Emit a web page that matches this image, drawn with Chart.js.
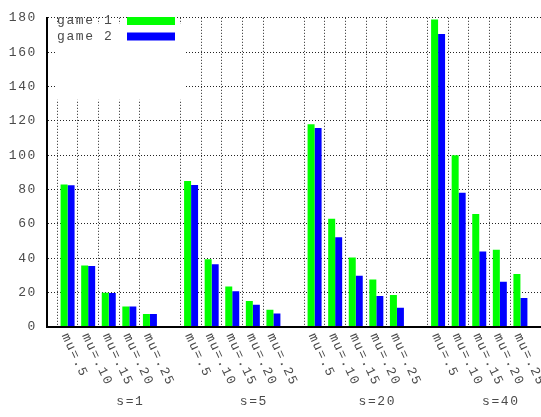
<!DOCTYPE html>
<html><head><meta charset="utf-8">
<script src="https://cdn.jsdelivr.net/npm/chart.js@4/dist/chart.umd.min.js"></script>
<style>html,body{margin:0;padding:0;background:#fff}canvas{display:block}</style>
</head><body>
<canvas id="c" width="541" height="417"></canvas>
<script>
const categories = ['mu=.5','mu=.10','mu=.15','mu=.20','mu=.25'];
const groups = ['s=1','s=5','s=20','s=40'];
const seriesNames = ['game 1','game 2'];
const game1 = [83,35.8,20,12,7.5,  85,39.4,23.6,15.2,10.1,  118,63,40.5,27.6,18.7,  179,100,65.8,45,30.9];
const game2 = [82.5,35.5,19.8,12,7.5,  82.7,36.6,20.8,12.9,7.9,  115.9,52.3,29.8,18,11.2,  170.5,78.2,43.9,26.4,16.9];
const yMin = 0, yMax = 180, yStep = 20;

const FONT_SIZE = 13;
const TEXT_FONT = FONT_SIZE + 'px "Liberation Mono"';
const TEXT_COLOR = '#4a4a4a';
const LETTER_SP = '1.6px';

// build category slots with an empty slot around each group
const labels = [''];
const v1 = [null], v2 = [null];
const groupLabelIndex = [];
groups.forEach((g, gi) => {
  categories.forEach((c, ci) => {
    labels.push(c);
    v1.push(game1[gi * categories.length + ci]);
    v2.push(game2[gi * categories.length + ci]);
  });
  groupLabelIndex.push(labels.length - 2);
  labels.push(''); v1.push(null); v2.push(null);
});

const decor = {
  id: 'decor',
  beforeDraw(chart) { chart.ctx.letterSpacing = LETTER_SP; },
  afterDatasetsDraw(chart) {
    const ctx = chart.ctx, a = chart.chartArea, xs = chart.scales.x;
    ctx.save();
    ctx.letterSpacing = LETTER_SP;
    // axis borders over bars
    ctx.strokeStyle = '#000'; ctx.lineWidth = 2; ctx.setLineDash([]);
    ctx.beginPath();
    ctx.moveTo(a.left, a.top); ctx.lineTo(a.left, a.bottom); ctx.lineTo(a.right, a.bottom);
    ctx.stroke();
    // legend box
    ctx.fillStyle = '#fff';
    ctx.fillRect(a.left + 8, a.top + 6, 131, 76);
    ctx.font = TEXT_FONT;
    ctx.textAlign = 'left'; ctx.textBaseline = 'middle';
    chart.data.datasets.forEach((ds, i) => {
      const y = 21 + i * 15.5;
      ctx.fillStyle = TEXT_COLOR;
      ctx.fillText(ds.label, 57, y);
      ctx.fillStyle = ds.backgroundColor;
      ctx.fillRect(127, y - 4, 48, 8);
    });
    // rotated category labels
    ctx.fillStyle = TEXT_COLOR;
    labels.forEach((l, i) => {
      if (!l) return;
      const x = xs.getPixelForValue(i);
      ctx.save();
      ctx.translate(x - 3, 334);
      ctx.rotate(65 * Math.PI / 180);
      ctx.textAlign = 'left'; ctx.textBaseline = 'middle';
      ctx.fillText(l, 0, 0);
      ctx.restore();
    });
    // group labels
    ctx.textAlign = 'center'; ctx.textBaseline = 'middle';
    groups.forEach((g, gi) => {
      const x = xs.getPixelForValue(groupLabelIndex[gi]);
      ctx.fillText(g, x + 1, 402);
    });
    ctx.restore();
  }
};

new Chart(document.getElementById('c'), {
  type: 'bar',
  plugins: [decor],
  data: {
    labels: labels,
    datasets: [
      { label: seriesNames[0], data: v1, backgroundColor: '#00ff00', borderWidth: 0 },
      { label: seriesNames[1], data: v2, backgroundColor: '#0000ff', borderWidth: 0 }
    ]
  },
  options: {
    responsive: false,
    animation: false,
    devicePixelRatio: 1,
    layout: { padding: { top: 7, right: 0, left: 0, bottom: 0 } },
    plugins: { legend: { display: false }, tooltip: { enabled: false } },
    datasets: { bar: { categoryPercentage: 0.68, barPercentage: 1.0 } },
    scales: {
      x: {
        type: 'category',
        offset: false,
        afterFit(s) { s.height = 90; },
        ticks: { display: false, autoSkip: false },
        grid: {
          drawTicks: false,
          color: (c) => (c.tick && labels[c.index] ? '#222' : 'rgba(0,0,0,0)'),
          lineWidth: 1
        },
        border: { display: true, color: '#000', width: 2, dash: [1, 2] }
      },
      y: {
        min: yMin, max: yMax,
        afterFit(s) { s.width = 47; },
        ticks: { stepSize: yStep, color: TEXT_COLOR, font: { family: 'Liberation Mono', size: FONT_SIZE }, padding: 10 },
        grid: { drawTicks: false, color: '#222', lineWidth: 1 },
        border: { display: true, color: '#000', width: 2, dash: [1, 2] }
      }
    }
  }
});
</script>
</body></html>
